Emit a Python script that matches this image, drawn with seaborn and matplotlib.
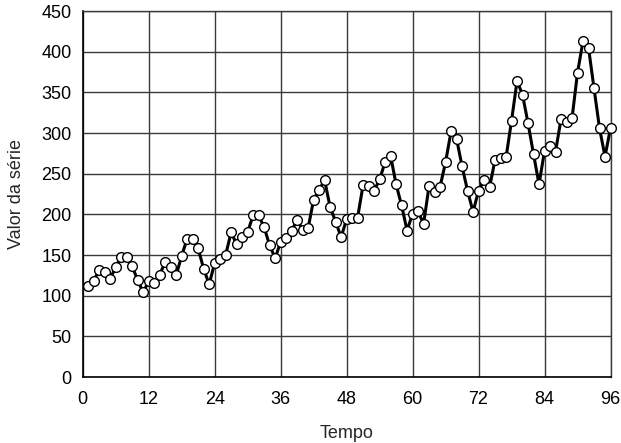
import numpy as np
import pandas as pd
import matplotlib
matplotlib.use("Agg")
import matplotlib.pyplot as plt
import seaborn as sns

tempo = list(range(1, 97))
valores = [
    112, 118, 132, 129, 121, 135, 148, 148, 136, 119, 104, 118,
    115, 126, 141, 135, 125, 149, 170, 170, 158, 133, 114, 140,
    145, 150, 178, 163, 172, 178, 199, 199, 184, 162, 146, 166,
    171, 180, 193, 181, 183, 218, 230, 242, 209, 191, 172, 194,
    196, 196, 236, 235, 229, 243, 264, 272, 237, 211, 180, 201,
    204, 188, 235, 227, 234, 264, 302, 293, 259, 229, 203, 229,
    242, 233, 267, 269, 270, 315, 364, 347, 312, 274, 237, 278,
    284, 277, 317, 313, 318, 374, 413, 405, 355, 306, 271, 306,
]
x_ticks = list(range(0, 97, 12))
y_ticks = list(range(0, 451, 50))

sns.set_theme(style="white")
plt.rcParams['font.family'] = ['Liberation Sans', 'DejaVu Sans']

df = pd.DataFrame({"Tempo": tempo, "Valor": valores})

W, H = 621, 443
left, right, top, bottom = 82.7, 610.5, 11, 377
fig = plt.figure(figsize=(W/100, H/100), dpi=100)
ax = fig.add_axes([left/W, 1 - bottom/H, (right-left)/W, (bottom-top)/H])

sns.lineplot(data=df, x="Tempo", y="Valor", ax=ax, color="black", linewidth=2.2,
             marker="o", markersize=7, markerfacecolor="white",
             markeredgecolor="black", markeredgewidth=1.0, zorder=3)
for line in ax.get_lines():
    line.set_clip_on(False)

ax.set_xlim(0, 96)
ax.set_ylim(0, 450)
ax.set_xticks(x_ticks)
ax.set_yticks(y_ticks)
ax.grid(True, color="#3a3a3a", linewidth=1.0)
ax.set_axisbelow(True)
for s in ["top", "right"]:
    ax.spines[s].set_visible(True)
    ax.spines[s].set_color("#3a3a3a")
    ax.spines[s].set_linewidth(1.0)
for s in ["left", "bottom"]:
    ax.spines[s].set_color("black")
    ax.spines[s].set_linewidth(1.2)
ax.tick_params(axis="both", length=0, labelsize=13, colors="black")
ax.tick_params(axis="x", pad=10)
ax.tick_params(axis="y", pad=8)
ax.set_xlabel("Tempo", fontsize=13, labelpad=12)
ax.set_ylabel("Valor da série", fontsize=13, labelpad=12)
ax.margins(0)

fig.savefig("out.png", dpi=100)
